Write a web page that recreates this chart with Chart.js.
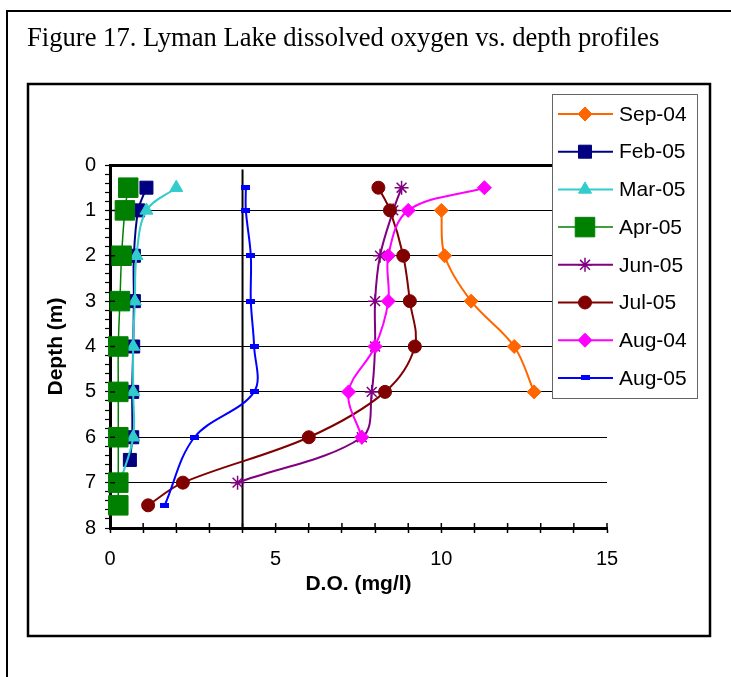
<!DOCTYPE html>
<html>
<head>
<meta charset="utf-8">
<script src="https://cdn.jsdelivr.net/npm/chart.js@4.4.0/dist/chart.umd.min.js"></script>
<style>
  html, body { margin: 0; padding: 0; background: #fff; }
  #wrap { position: relative; width: 731px; height: 677px; overflow: hidden; }
  #chart { position: absolute; left: 0; top: 0; }
  #title {
    position: absolute; left: 27px; top: 21.5px;
    font-family: "Liberation Serif", "Times New Roman", serif;
    font-size: 26.6px; line-height: 30px; color: #000; white-space: nowrap;
  }
</style>
</head>
<body>
<div id="wrap">
  <canvas id="chart" width="731" height="677"></canvas>
  <div id="title">Figure 17. Lyman Lake dissolved oxygen vs. depth profiles</div>
</div>
<script>
/* =========================
   DATA  (depth m, D.O. mg/l)
========================= */
const seriesLabels = ['Sep-04', 'Feb-05', 'Mar-05', 'Apr-05', 'Jun-05', 'Jul-05', 'Aug-04', 'Aug-05'];

const sep04Depth = [1, 2, 3, 4, 5];
const sep04DO    = [10.0, 10.1, 10.9, 12.2, 12.8];

const feb05Depth = [0.5, 1, 2, 3, 4, 5, 6, 6.5];
const feb05DO    = [1.1, 0.85, 0.72, 0.72, 0.7, 0.67, 0.67, 0.6];

const mar05Depth = [0.5, 1, 2, 3, 4, 5, 6, 7];
const mar05DO    = [2.0, 1.1, 0.8, 0.75, 0.7, 0.7, 0.7, 0.3];

const apr05Depth = [0.5, 1, 2, 3, 4, 5, 6, 7, 7.5];
const apr05DO    = [0.55, 0.45, 0.35, 0.3, 0.25, 0.25, 0.25, 0.25, 0.25];

const jun05Depth = [0.5, 1, 2, 3, 4, 5, 6, 7];
const jun05DO    = [8.8, 8.55, 8.15, 8.0, 8.0, 7.9, 7.6, 3.85];

const jul05Depth = [0.5, 1, 2, 3, 4, 5, 6, 7, 7.5];
const jul05DO    = [8.1, 8.45, 8.85, 9.05, 9.2, 8.3, 6.0, 2.2, 1.15];

const aug04Depth = [0.5, 1, 2, 3, 4, 5, 6];
const aug04DO    = [11.3, 9.0, 8.4, 8.4, 8.0, 7.2, 7.6];

const aug05Depth = [0.5, 1, 2, 3, 4, 5, 6, 7.5];
const aug05DO    = [4.1, 4.1, 4.25, 4.25, 4.35, 4.35, 2.55, 1.65];

// 4 mg/l reference line
const refDepth = [0.1, 8];
const refDO    = [4, 4];

const xTickLabels = [0, 5, 10, 15];
const yTickLabels = [0, 1, 2, 3, 4, 5, 6, 7, 8];

/* =========================
   HELPERS
========================= */
const pts = (dox, depth) => dox.map((v, i) => ({ x: v, y: depth[i] }));

const dash = document.createElement('canvas');
dash.width = 9; dash.height = 5;
dash.getContext('2d').fillStyle = '#0000FF';
dash.getContext('2d').fillRect(0, 0, 9, 5);

function series(i, dox, depth, color, style, radius, lw) {
  return {
    label: seriesLabels[i],
    data: pts(dox, depth),
    showLine: true,
    borderColor: color,
    borderWidth: lw || 2,
    tension: 0.35,
    pointStyle: style,
    pointRadius: radius,
    pointBackgroundColor: color,
    pointBorderColor: color,
    pointBorderWidth: style === 'star' ? 1.5 : 1,
    clip: false,
    order: -i
  };
}

const SANS = "'Liberation Sans', Arial, sans-serif";

/* =========================
   PLUGINS
========================= */
const frame = {
  id: 'frame',
  beforeDraw(chart) {
    const ctx = chart.ctx;
    ctx.save();
    ctx.fillStyle = '#fff';
    ctx.fillRect(0, 0, chart.width, chart.height);
    ctx.strokeStyle = '#000';
    ctx.lineWidth = 2;
    ctx.beginPath();
    ctx.moveTo(7, 700); ctx.lineTo(7, 11); ctx.lineTo(740, 11);
    ctx.stroke();
    ctx.lineWidth = 2.5;
    ctx.strokeRect(28, 84, 682, 552);
    ctx.restore();
  }
};

const innerTicks = {
  id: 'innerTicks',
  afterDatasetsDraw(chart) {
    const { ctx, chartArea: a, scales: { x, y } } = chart;
    ctx.save();
    ctx.strokeStyle = '#000';
    ctx.lineWidth = 1.5;
    ctx.beginPath();
    yTickLabels.forEach(v => {
      const py = y.getPixelForValue(v);
      ctx.moveTo(a.left, py); ctx.lineTo(a.left + 5, py);
    });
    for (let v = 0; v <= 15; v++) {
      const px = x.getPixelForValue(v);
      ctx.moveTo(px, a.bottom); ctx.lineTo(px, a.bottom - 5);
    }
    ctx.stroke();
    ctx.restore();
  }
};

const boxLegend = {
  id: 'boxLegend',
  afterDraw(chart) {
    const ctx = chart.ctx;
    ctx.save();
    ctx.fillStyle = '#fff';
    ctx.fillRect(552, 94, 145, 304);
    ctx.strokeStyle = '#666';
    ctx.lineWidth = 1;
    ctx.strokeRect(552.5, 94.5, 145, 304);
    let row = 0;
    chart.data.datasets.forEach(ds => {
      if (!ds.label) return;
      const cy = 114 + row * 37.7;
      ctx.strokeStyle = ds.borderColor;
      ctx.lineWidth = ds.borderWidth;
      ctx.beginPath(); ctx.moveTo(558, cy); ctx.lineTo(613, cy); ctx.stroke();
      ctx.fillStyle = ds.pointBackgroundColor;
      ctx.strokeStyle = ds.pointBorderColor;
      ctx.lineWidth = ds.pointBorderWidth;
      Chart.helpers.drawPoint(ctx, {
        pointStyle: ds.pointStyle, radius: ds.pointRadius, rotation: 0, borderWidth: ds.pointBorderWidth
      }, 585, cy);
      ctx.fillStyle = '#000';
      ctx.font = '21px ' + SANS;
      ctx.textAlign = 'left';
      ctx.textBaseline = 'middle';
      ctx.fillText(ds.label, 619, cy + 1);
      row++;
    });
    ctx.restore();
  }
};

/* =========================
   CHART
========================= */
const isInt = v => Math.abs(v - Math.round(v)) < 1e-6;

new Chart(document.getElementById('chart'), {
  type: 'scatter',
  data: {
    datasets: [
      series(0, sep04DO, sep04Depth, '#FF6600', 'rectRot', 7),
      series(1, feb05DO, feb05Depth, '#000080', 'rect', 9.2),
      series(2, mar05DO, mar05Depth, '#33CCCC', 'triangle', 7.5),
      series(3, apr05DO, apr05Depth, '#008000', 'rect', 13.8, 1.5),
      series(4, jun05DO, jun05Depth, '#800080', 'star', 7),
      series(5, jul05DO, jul05Depth, '#800000', 'circle', 6.5),
      series(6, aug04DO, aug04Depth, '#FF00FF', 'rectRot', 7),
      series(7, aug05DO, aug05Depth, '#0000FF', dash, 5),
      {
        label: '',
        data: pts(refDO, refDepth),
        showLine: true,
        borderColor: '#000',
        borderWidth: 2,
        pointRadius: 0,
        clip: false,
        order: 100
      }
    ]
  },
  options: {
    responsive: false,
    animation: false,
    events: [],
    layout: { padding: { left: 40, right: 124, top: 165, bottom: 80 } },
    plugins: { legend: { display: false }, tooltip: { enabled: false } },
    scales: {
      x: {
        type: 'linear',
        min: 0, max: 15,
        afterFit: s => { s.height = 69; },
        border: { color: '#000', width: 3 },
        grid: { drawOnChartArea: false, tickLength: 5, tickColor: '#000', tickWidth: 1.5 },
        ticks: {
          stepSize: 1, autoSkip: false, maxRotation: 0, padding: 14,
          color: '#000', font: { family: SANS, size: 20 },
          callback: v => xTickLabels.includes(v) ? String(v) : ''
        },
        title: {
          display: true, text: 'D.O. (mg/l)', color: '#000',
          font: { family: SANS, size: 21, weight: 'bold' },
          padding: { top: 0, bottom: 0 }
        }
      },
      y: {
        type: 'linear',
        reverse: true,
        min: 0, max: 8,
        afterFit: s => { s.width = 70; },
        border: { color: '#000', width: 3 },
        grid: {
          drawOnChartArea: true,
          color: c => (isInt(c.tick.value) && c.tick.value < 8) ? '#000' : 'rgba(0,0,0,0)',
          lineWidth: c => isInt(c.tick.value) && Math.round(c.tick.value) === 0 ? 3 : 1,
          tickLength: 5, tickColor: '#000', tickWidth: 1.2
        },
        ticks: {
          stepSize: 0.2, autoSkip: false, padding: 9,
          color: '#000', font: { family: SANS, size: 20 },
          callback: v => isInt(v) && yTickLabels.includes(Math.round(v)) ? String(Math.round(v)) : ''
        },
        title: {
          display: true, text: 'Depth (m)', color: '#000',
          font: { family: SANS, size: 21, weight: 'bold' },
          padding: { top: 4, bottom: 0 }
        }
      }
    }
  },
  plugins: [frame, innerTicks, boxLegend]
});
</script>
</body>
</html>
